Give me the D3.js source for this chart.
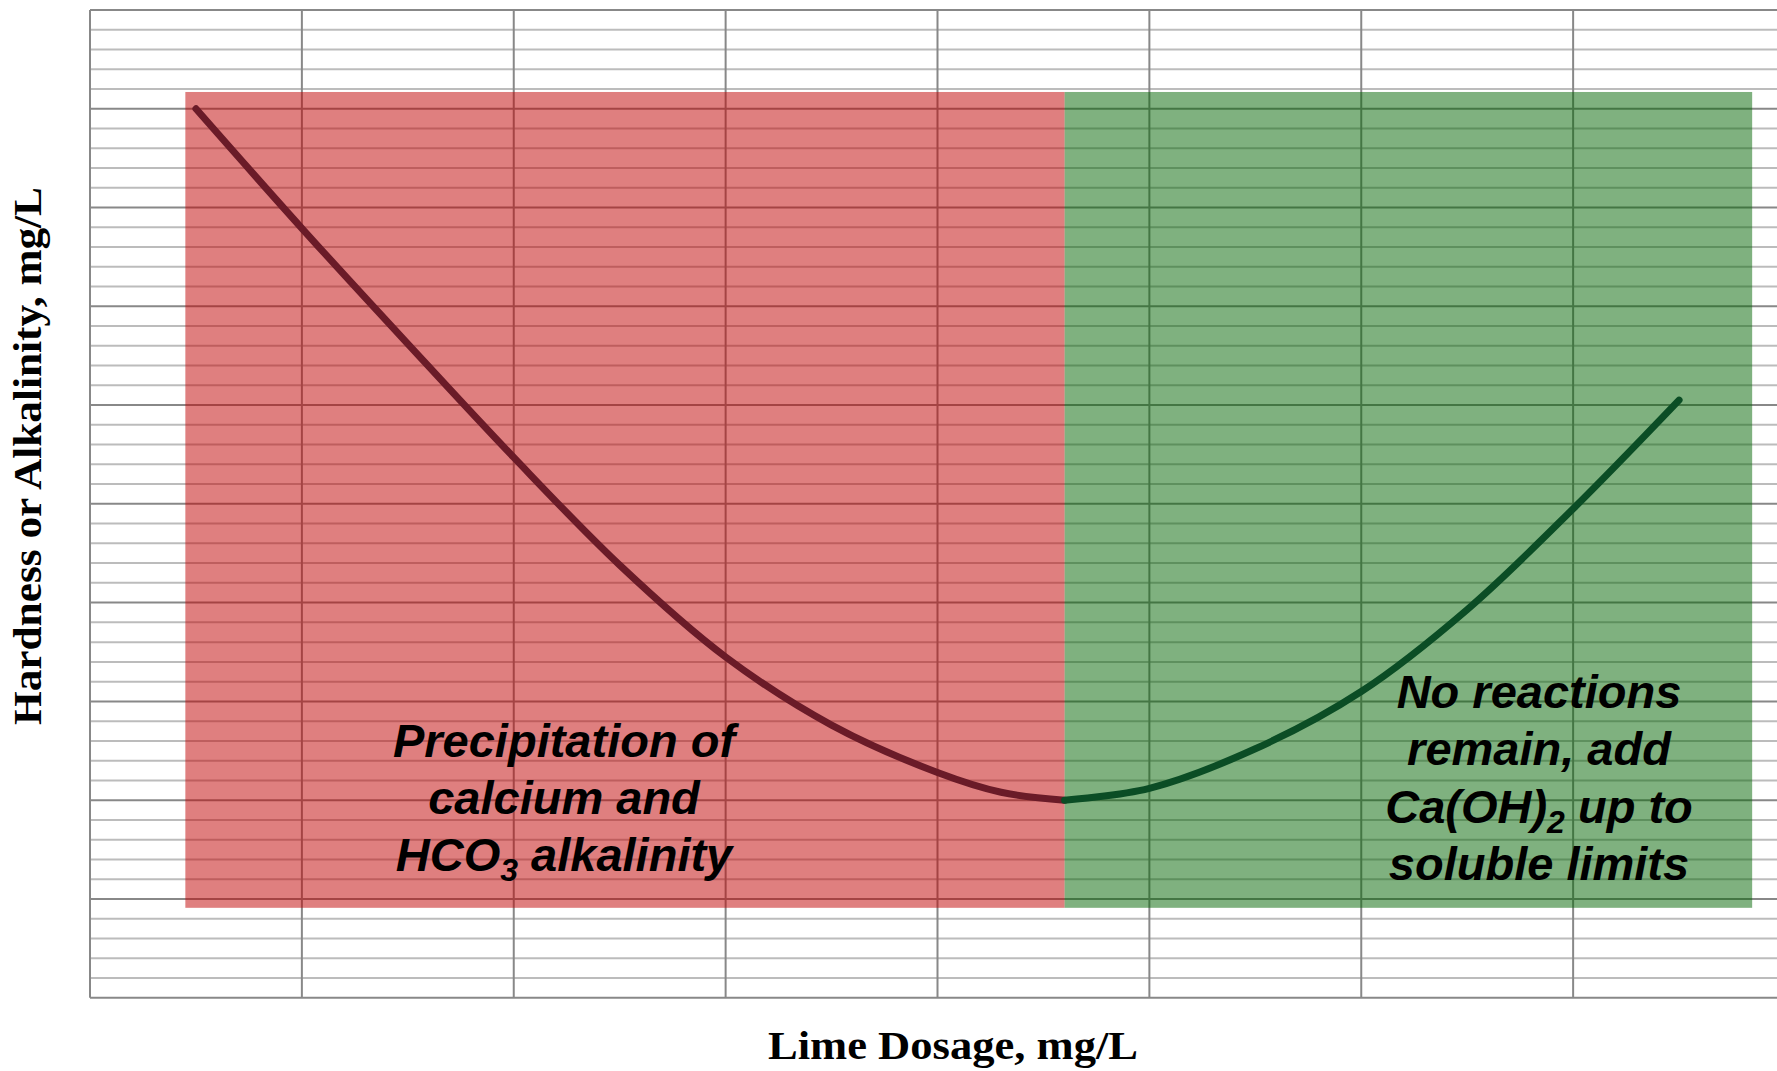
<!DOCTYPE html>
<html>
<head>
<meta charset="utf-8">
<script src="https://cdn.jsdelivr.net/npm/d3@7"></script>
<style>
  html, body { margin: 0; padding: 0; background: #fff; }
  svg { display: block; }
</style>
</head>
<body>
<script>
// ---- Data ----
const xDomain = [0, 8];
const yDomain = [0, 10];
const xMajorTicks = [0, 1, 2, 3, 4, 5, 6, 7, 8];
const yMajorTicks = [0, 1, 2, 3, 4, 5, 6, 7, 8, 9, 10];
const yMinorStep = 0.2;

// Regions [x0, x1, y0, y1]
const redRegion = [0.45, 4.6, 0.91, 9.17];
const greenRegion = [4.6, 7.845, 0.91, 9.17];

// Curve: precipitation phase (red) and excess lime phase (green)
const precipX = [0.5, 1.0, 1.5, 2.0, 2.5, 3.0, 3.5, 4.0, 4.3, 4.6];
const precipY = [9.0, 7.79, 6.62, 5.47, 4.38, 3.45, 2.76, 2.28, 2.08, 2.0];
const excessX = [4.6, 5.0, 5.5, 6.0, 6.5, 7.0, 7.5];
const excessY = [2.0, 2.12, 2.52, 3.1, 3.93, 4.95, 6.05];

const xLabel = "Lime Dosage, mg/L";
const yLabel = "Hardness or Alkalinity, mg/L";
const leftNote = [["Precipitation of"], ["calcium and"], ["HCO", "3", " alkalinity"]];
const rightNote = [["No reactions"], ["remain, add"], ["Ca(OH)", "2", " up to"], ["soluble limits"]];

// ---- Chart ----
const W = 1777, H = 1071;
const svg = d3.select("body").append("svg").attr("width", W).attr("height", H);
svg.append("rect").attr("width", W).attr("height", H).attr("fill", "#fff");

const x = d3.scaleLinear().domain(xDomain).range([90, 1785]);
const y = d3.scaleLinear().domain(yDomain).range([997.7, 10]);

const grid = svg.append("g");
const minorVals = d3.range(yDomain[0], yDomain[1] + 1e-9, yMinorStep).filter(v => Math.abs(v - Math.round(v)) > 1e-6);
grid.selectAll("line.minor").data(minorVals).join("line")
  .attr("x1", x(0)).attr("x2", x(8))
  .attr("y1", d => y(d)).attr("y2", d => y(d))
  .attr("stroke", "#bcbcbc").attr("stroke-width", 2);
grid.selectAll("line.majory").data(yMajorTicks).join("line")
  .attr("x1", x(0)).attr("x2", x(8))
  .attr("y1", d => y(d)).attr("y2", d => y(d))
  .attr("stroke", "#888").attr("stroke-width", 2);
grid.selectAll("line.majorx").data(xMajorTicks).join("line")
  .attr("x1", d => x(d)).attr("x2", d => x(d))
  .attr("y1", y(0)).attr("y2", y(10))
  .attr("stroke", "#888").attr("stroke-width", 2);

// Regions
function region(r, color) {
  svg.append("rect")
    .attr("x", x(r[0])).attr("width", x(r[1]) - x(r[0]))
    .attr("y", y(r[3])).attr("height", y(r[2]) - y(r[3]))
    .attr("fill", color).attr("fill-opacity", 0.5);
}
region(redRegion, "#c00000");
region(greenRegion, "#006400");

// Curves
const line = d3.line().x(d => x(d[0])).y(d => y(d[1])).curve(d3.curveCatmullRom.alpha(0.5));
svg.append("path").datum(precipX.map((v, i) => [v, precipY[i]]))
  .attr("d", line).attr("fill", "none").attr("stroke", "#6a1b28")
  .attr("stroke-width", 7).attr("stroke-linecap", "round");
svg.append("path").datum(excessX.map((v, i) => [v, excessY[i]]))
  .attr("d", line).attr("fill", "none").attr("stroke", "#0b4d25")
  .attr("stroke-width", 7).attr("stroke-linecap", "round");

// Notes
function note(lines, cx, y0, dy) {
  const t = svg.append("text")
    .attr("text-anchor", "middle")
    .attr("font-family", "'Liberation Sans', Arial, sans-serif")
    .attr("font-weight", "bold").attr("font-style", "italic")
    .attr("font-size", 47).attr("fill", "#000");
  lines.forEach((parts, i) => {
    const tl = t.append("tspan").attr("x", cx).attr("y", y0 + i * dy);
    parts.forEach((p, j) => {
      if (j === 1) {
        tl.append("tspan").attr("font-size", 32).attr("dy", 10).text(p);
      } else if (j === 2) {
        tl.append("tspan").attr("dy", -10).text(p);
      } else {
        tl.append("tspan").text(p);
      }
    });
  });
}
note(leftNote, 564, 757, 57);
note(rightNote, 1539, 708, 57.3);

// Axis labels
svg.append("text")
  .attr("x", 953).attr("y", 1059)
  .attr("text-anchor", "middle")
  .attr("font-family", "'Liberation Serif', 'Times New Roman', serif")
  .attr("font-weight", "bold").attr("font-size", 40)
  .attr("textLength", 370).attr("lengthAdjust", "spacingAndGlyphs")
  .text(xLabel);
svg.append("text")
  .attr("transform", "translate(41,456) rotate(-90)")
  .attr("text-anchor", "middle")
  .attr("font-family", "'Liberation Serif', 'Times New Roman', serif")
  .attr("font-weight", "bold").attr("font-size", 40)
  .attr("textLength", 538).attr("lengthAdjust", "spacingAndGlyphs")
  .text(yLabel);
</script>
</body>
</html>
